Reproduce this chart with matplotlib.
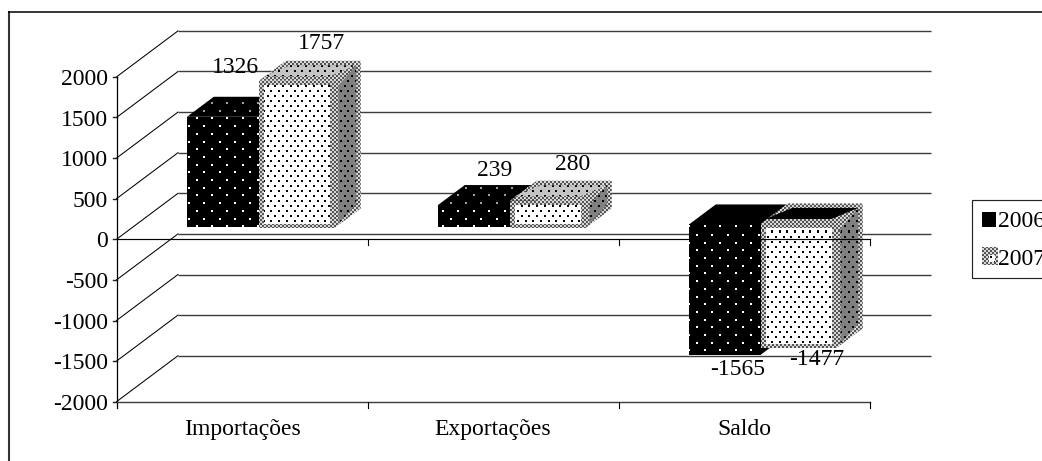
import numpy as np
import matplotlib
matplotlib.use("Agg")
import matplotlib.pyplot as plt
from matplotlib.patches import Polygon, Rectangle
from matplotlib.colors import to_rgb

plt.rcParams["font.family"] = ["Liberation Serif", "DejaVu Serif"]

categories = ["Importações", "Exportações", "Saldo"]
series_2006 = [1326, 239, -1565]
series_2007 = [1757, 280, -1477]
y_ticks = [2000, 1500, 1000, 500, 0, -500, -1000, -1500, -2000]
legend_labels = ["2006", "2007"]

W, H = 1042, 461
# layout of the fake 3D box, in pixels
X_LEFT, CAT_W = 116.5, 251.0
Y_ZERO, PX_PER_UNIT = 239.3, 0.0812
WALL_DX, WALL_DY = 61.5, 46.0
BAR_DEPTH0, BAR_DEPTH1 = 0.29, 0.725
BAR_OFFSET, W_2006, W_2007 = 53.5, 72, 75
FS = 17

# anchors of the value labels (centre x, baseline y)
pos_2006 = [(235, 73), (494.5, 176), (738, 375)]
pos_2007 = [(321, 49), (573, 170), (817, 365)]


def val_y(v, depth=0.0):
    return Y_ZERO - PX_PER_UNIT * v - WALL_DY * depth


def dots(bg, fg, px, py, size=2, phase=(0, 0)):
    img = np.ones((H, W, 3)) * to_rgb(bg)
    col = to_rgb(fg)
    for i, y in enumerate(np.arange(phase[1], H, py)):
        shift = px / 2 if i % 2 else 0
        for x in np.arange(phase[0] + shift, W, px):
            xi, yi = int(round(x)), int(round(y))
            img[yi:yi + size, xi:xi + size] = col
    return img


def checker(c1, c2):
    yy, xx = np.mgrid[0:H, 0:W]
    mask = ((xx // 2 + yy // 2) % 2 == 0)[..., None]
    return mask * np.array(to_rgb(c1)) + (~mask) * np.array(to_rgb(c2))


fig = plt.figure(figsize=(W / 100, H / 100), dpi=100)
ax = fig.add_axes([0, 0, 1, 1])
ax.set_xlim(0, W)
ax.set_ylim(H, 0)
ax.axis("off")

tex_black = dots("#000000", "#ffffff", 15.4, 7.7, phase=(3, 3))
tex_black_top = dots("#000000", "#a0a0a0", 15.4, 7.7, phase=(3, 3))
tex_white = dots("#ffffff", "#000000", 7.7, 5, phase=(1, 1))
tex_top = dots("#c4c4c4", "#000000", 7.7, 5, phase=(1, 1))
tex_side = dots("#808080", "#000000", 7.7, 5, phase=(1, 1))
tex_solid = np.zeros((H, W, 3))
tex_edge = checker("#555555", "#d8d8d8")


def fill(poly, tex, z):
    im = ax.imshow(tex, extent=(0, W, H, 0), aspect="auto", interpolation="nearest", zorder=z)
    im.set_clip_path(Polygon(poly, closed=True, transform=ax.transData))


def inset(poly, d=4.5):
    p = np.array(poly, dtype=float)
    c = p.mean(axis=0)
    return p + d * np.sign(c - p)


def box_faces(x0, width, v, pad):
    top = max(v, 0)
    bot = min(v, 0)
    yt = val_y(top, BAR_DEPTH0) - pad
    yb = val_y(bot, BAR_DEPTH0) + pad
    x1 = x0 + width
    dx = WALL_DX * (BAR_DEPTH1 - BAR_DEPTH0)
    dy = WALL_DY * (BAR_DEPTH1 - BAR_DEPTH0)
    front = [(x0, yt), (x1, yt), (x1, yb), (x0, yb)]
    top_f = [(x0, yt), (x1, yt), (x1 + dx, yt - dy), (x0 + dx, yt - dy)]
    side = [(x1, yt), (x1 + dx, yt - dy), (x1 + dx, yb - dy), (x1, yb)]
    return front, top_f, side


# back wall and side wall
x_back0, x_back1 = X_LEFT + WALL_DX, X_LEFT + WALL_DX + 3 * CAT_W
for t in y_ticks:
    yf, yb = val_y(t), val_y(t, 1)
    ax.plot([X_LEFT, x_back0], [yf, yb], color="black", lw=0.75, zorder=2)
    ax.plot([x_back0, x_back1], [yb, yb], color="#3c3c3c", lw=1.0, zorder=2, solid_capstyle="butt")
    ax.plot([X_LEFT - 4, X_LEFT], [yf, yf], color="#222222", lw=1.0, zorder=6)
    ax.text(108, yf + 8, str(t), ha="right", va="baseline", fontsize=FS, zorder=9)

# bars, left to right so each hides the side of the previous one
z = 3.0
for i in range(len(categories)):
    x0 = X_LEFT + CAT_W * i + BAR_OFFSET + 17
    neg = series_2006[i] < 0

    front, top_f, side = box_faces(x0, W_2006, series_2006[i], 1.5)
    fill(side, tex_solid, z)
    fill(top_f, tex_solid if neg else tex_black_top, z + 0.01)
    fill(front, tex_black, z + 0.02)

    x1 = x0 + W_2006
    front, top_f, side = box_faces(x1, W_2007, series_2007[i], 2.5)
    fill(side, tex_edge, z + 0.03)
    fill(inset(side), tex_side, z + 0.04)
    fill(top_f, tex_edge, z + 0.05)
    fill(inset(top_f), tex_solid if neg else tex_top, z + 0.06)
    fill(front, tex_edge, z + 0.07)
    fill(inset(front), tex_white, z + 0.08)
    z += 0.1

# front axes drawn over the bars
x_right = X_LEFT + 3 * CAT_W
ax.plot([X_LEFT, X_LEFT], [val_y(2000), val_y(-2000) + 6], color="black", lw=0.9, zorder=6)
ax.plot([X_LEFT, x_right], [val_y(0), val_y(0)], color="black", lw=0.85, zorder=6)
ax.plot([X_LEFT, x_right], [val_y(-2000), val_y(-2000)], color="#3c3c3c", lw=1.0, zorder=6)
for i in range(1, 4):
    xt = X_LEFT + CAT_W * i
    ax.plot([xt, xt], [val_y(0), val_y(0) + 6], color="black", lw=0.8, zorder=6)
    ax.plot([xt, xt], [val_y(-2000), val_y(-2000) + 6], color="black", lw=0.8, zorder=6)

for i, name in enumerate(categories):
    ax.text(X_LEFT + CAT_W * (i + 0.5), 435, name, ha="center", va="baseline", fontsize=FS, zorder=9)

for vals, pos in ((series_2006, pos_2006), (series_2007, pos_2007)):
    for v, (px, py) in zip(vals, pos):
        ax.text(px, py, str(v), ha="center", va="baseline", fontsize=FS, zorder=9)

# outer frame, open at the right and at the bottom
ax.plot([8.5, 8.5], [H, 12.5], color="#333333", lw=1.5, zorder=1, solid_capstyle="projecting")
ax.plot([8.5, W], [12.5, 12.5], color="black", lw=1.1, zorder=1)

# legend
ax.add_patch(Rectangle((972, 199.5), 90, 78, fc="white", ec="#222222", lw=0.85, zorder=7))
fill([(982, 212), (996, 212), (996, 227), (982, 227)], tex_solid, 8)
fill([(982, 247), (998, 247), (998, 265), (982, 265)], tex_edge, 8)
fill([(989, 255), (995, 255), (995, 262), (989, 262)], tex_white, 8.1)
ax.text(998, 227, legend_labels[0], ha="left", va="baseline", fontsize=FS, zorder=9)
ax.text(998, 265, legend_labels[1], ha="left", va="baseline", fontsize=FS, zorder=9)

ax.set_xlim(0, W)
ax.set_ylim(H, 0)
fig.savefig("out.png", dpi=100)
